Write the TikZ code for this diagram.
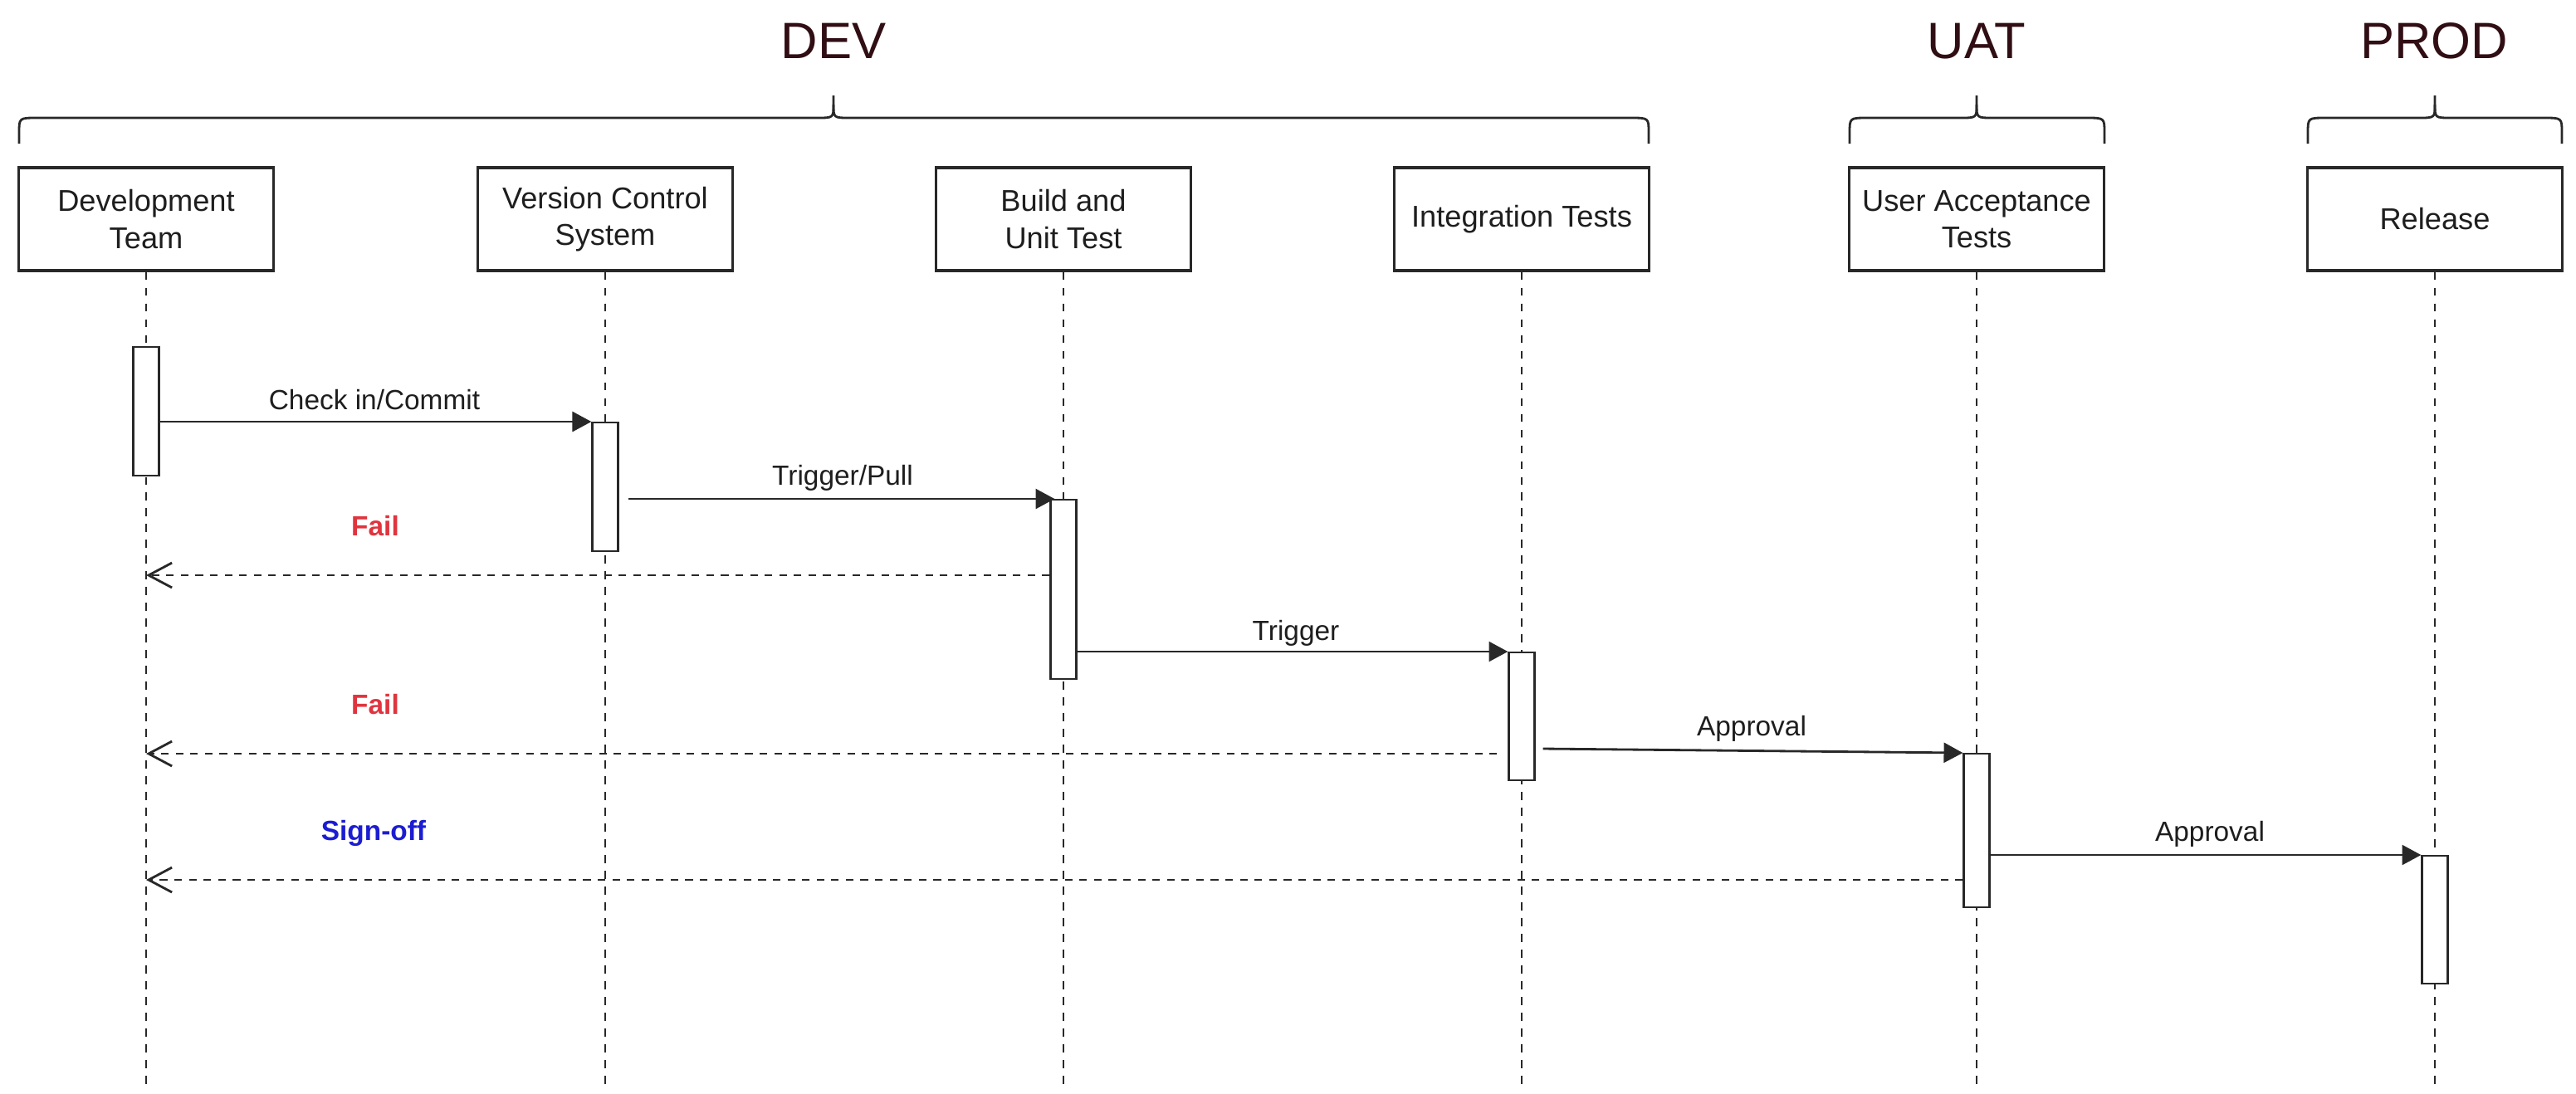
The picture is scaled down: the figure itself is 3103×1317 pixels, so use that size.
\documentclass[tikz,border=0pt]{standalone}
\usepackage{fontspec}
\setmainfont{Liberation Sans}
\usetikzlibrary{arrows.meta,calc}
\definecolor{ink}{RGB}{30,30,30}
\definecolor{lineink}{RGB}{40,40,40}
\definecolor{titleink}{RGB}{48,14,20}
\definecolor{failred}{RGB}{224,52,62}
\definecolor{signblue}{RGB}{28,28,210}
\newcommand\mybrace[3]{%
  \draw[bracestyle] (#1,173) -- (#1,160) .. controls (#1,142) .. (#1+22,142) -- (#2-20,142) .. controls (#2,142) .. (#2,126) -- (#2,115);
  \draw[bracestyle] (#2,126) .. controls (#2,142) .. (#2+20,142) -- (#3-22,142) .. controls (#3,142) .. (#3,160) -- (#3,173);}
\begin{document}
\begin{tikzpicture}[x=0.01cm,y=-0.01cm,
  actor/.style={draw=lineink, line width=0.9pt, fill=white, minimum width=3.07cm, minimum height=1.24cm,
    align=center, font=\fontsize{10.3}{12.6}\selectfont, text=ink, inner sep=0pt},
  bar/.style={draw=lineink, line width=0.65pt, fill=white, minimum width=0.31cm, anchor=north, inner sep=0pt},
  life/.style={draw=lineink, line width=0.55pt, dash pattern=on 2.8pt off 2.6pt},
  msg/.style={draw=lineink, line width=0.8pt, -{Triangle[length=6.5pt,width=6.8pt]}},
  ret/.style={draw=lineink, line width=0.8pt, dash pattern=on 2.6pt off 2.4pt,
    -{Straight Barb[length=8pt,width=8.5pt,line width=0.8pt]}},
  lbl/.style={anchor=base, font=\fontsize{9.5}{11}\selectfont, text=ink, inner sep=0pt},
  rlbl/.style={anchor=base, font=\fontsize{9.5}{11}\selectfont\bfseries, inner sep=0pt},
  title/.style={anchor=base, font=\fontsize{17.5}{20}\selectfont, text=titleink, inner sep=0pt},
  bracestyle/.style={draw=lineink, line width=0.8pt}
]
\fill[white] (0,0) rectangle (3103,1317);
\useasboundingbox (0,0) rectangle (3103,1317);

% titles and braces
\node[title] (tdev) at (1004,70) {DEV};
\node[title] (tuat) at (2381,70) {UAT};
\node[title] (tprod) at (2932,70) {PROD};
\mybrace{23}{1004}{1986}
\mybrace{2228}{2381}{2535}
\mybrace{2780}{2933}{3086}

% participants
\coordinate (bot) at (0,1308);
\node[actor] (b1) at (176,264) {Development\\Team};
\node[actor] (b2) at (729,264) {Version Control\\System};
\node[actor] (b3) at (1281,264) {Build and\\Unit Test};
\node[actor] (b4) at (1833,264) {Integration Tests};
\node[actor] (b5) at (2381,264) {User Acceptance\\Tests};
\node[actor] (b6) at (2933,264) {Release};

% lifelines
\foreach \b in {b1,b2,b3,b4,b5,b6}{
  \draw[life] (\b.south) -- (\b.south |- bot);
}

% activation bars
\node[bar, minimum height=1.55cm] (a1) at (176,417) {};
\node[bar, minimum height=1.55cm] (a2) at (729,508) {};
\node[bar, minimum height=2.16cm] (a3) at (1281,601) {};
\node[bar, minimum height=1.54cm] (a4) at (1833,785) {};
\node[bar, minimum height=1.85cm] (a5) at (2381,907) {};
\node[bar, minimum height=1.54cm] (a6) at (2933,1030) {};

% y levels of return messages
\coordinate (y1) at (0,693);
\coordinate (y2) at (0,908);
\coordinate (y3) at (0,902);
\coordinate (y4) at (0,1060);

% messages
\draw[msg] (a1.east |- a2.north) -- (a2.north west);
\node[lbl] (l1) at (451,493) {Check in/Commit};

\draw[msg] ([xshift=0.11cm]a2.east |- a3.north) -- ([xshift=0.06cm]a3.north west);
\node[lbl] (l2) at (1015,584) {Trigger/Pull};

\draw[ret] (a3.west |- y1) -- (b1 |- y1);
\node[rlbl, text=failred] (l3) at (452,645) {Fail};

\draw[msg] (a3.east |- a4.north) -- (a4.north west);
\node[lbl] (l4) at (1561,771) {Trigger};

\draw[ret] ([xshift=-0.13cm]a4.west |- y2) -- (b1 |- y2);
\node[rlbl, text=failred] (l5) at (452,860) {Fail};

\draw[msg] ([xshift=0.09cm]a4.east |- y3) -- (a5.north west);
\node[lbl] (l6) at (2110,886) {Approval};

\draw[ret] (a5.west |- y4) -- (b1 |- y4);
\node[rlbl, text=signblue] (l7) at (450,1012) {Sign-off};

\draw[msg] (a5.east |- a6.north) -- (a6.north west);
\node[lbl] (l8) at (2662,1013) {Approval};
\end{tikzpicture}
\end{document}
